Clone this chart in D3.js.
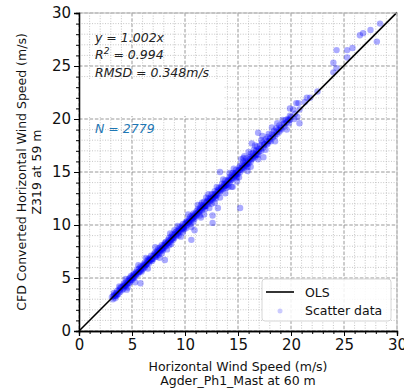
<!DOCTYPE html>
<html>
<head>
<meta charset="utf-8">
<script src="https://cdn.jsdelivr.net/npm/d3@7"></script>
<style>
  body { margin: 0; background: #fff; }
  text { font-family: "DejaVu Sans", sans-serif; }
</style>
</head>
<body>
<svg id="chart" width="404" height="391"></svg>
<script>
// axis ticks
const tickValues = [0, 5, 10, 15, 20, 25, 30];
const minorTicks = d3.range(0, 31, 1);

// OLS fit
const olsSlope = 1.002;
const olsRange = [0, 30];

// annotation strings
const statLines = ['y = 1.002x', 'R2 = 0.994', 'RMSD = 0.348m/s'];
const nLabel = 'N = 2779';

// scatter data [measured, cfd]
const scatterPoints = [
  [3.1,3.2],[3.2,3.0],[3.3,3.4],[3.4,3.3],[3.5,3.6],[3.5,3.3],[3.6,3.8],[3.7,3.5],[3.8,3.9],[3.9,3.7],[3.9,4.1],[3.3,3.6],[3.6,3.4],[3.8,4.2],[3.4,3.1],
  [4.0,4.1],[4.1,3.9],[4.2,4.4],[4.2,4.0],[4.3,4.5],[4.4,4.2],[4.5,4.7],[4.5,4.4],[4.6,4.5],[4.7,4.9],[4.7,4.5],[4.8,5.0],[4.8,4.6],[4.9,4.8],[4.9,5.2],[4.4,4.9],[4.6,4.1],[4.3,4.3],[4.5,3.9],
  [5.0,5.1],[5.0,4.8],[5.1,5.3],[5.2,5.0],[5.2,5.4],[5.3,5.2],[5.4,5.6],[5.4,5.3],[5.5,5.5],[5.5,5.8],[5.6,5.4],[5.7,5.9],[5.7,5.6],[5.8,5.7],[5.8,6.1],[5.9,5.8],[5.9,5.6],[5.3,4.6],[5.6,6.2],[5.1,5.0],[5.8,4.5],
  [6.0,6.1],[6.0,5.8],[6.1,6.3],[6.2,6.0],[6.2,6.4],[6.3,6.2],[6.4,6.6],[6.4,6.3],[6.5,6.5],[6.5,6.8],[6.6,6.4],[6.7,6.9],[6.7,6.6],[6.8,6.7],[6.8,7.1],[6.9,6.8],[6.9,6.6],[6.5,5.9],[6.3,6.9],[6.6,6.7],[6.1,6.0],
  [7.0,7.1],[7.0,6.8],[7.1,7.3],[7.2,7.0],[7.2,7.4],[7.3,7.2],[7.4,7.6],[7.4,7.3],[7.5,7.5],[7.5,7.8],[7.6,7.4],[7.7,7.9],[7.7,7.6],[7.8,7.7],[7.8,8.1],[7.9,7.8],[7.9,7.6],[7.6,6.9],[7.2,7.9],[7.5,7.2],[7.8,7.3],[7.3,7.0],
  [8.0,8.1],[8.0,7.8],[8.1,8.3],[8.2,8.0],[8.2,8.4],[8.3,8.2],[8.4,8.6],[8.4,8.3],[8.5,8.5],[8.5,8.8],[8.6,8.4],[8.7,8.9],[8.7,8.6],[8.8,8.7],[8.8,9.1],[8.9,8.8],[8.9,8.6],[8.3,7.7],[8.6,9.2],[8.1,8.0],[8.7,8.2],[8.5,8.1],[8.1,6.7],
  [9.0,9.1],[9.0,8.8],[9.1,9.3],[9.2,9.0],[9.2,9.4],[9.3,9.2],[9.4,9.6],[9.4,9.3],[9.5,9.5],[9.5,9.8],[9.6,9.4],[9.7,9.9],[9.7,9.6],[9.8,9.7],[9.8,10.1],[9.9,9.8],[9.9,9.6],[9.6,8.9],[9.3,9.9],[9.0,9.5],[9.8,9.3],[9.4,9.0],
  [10.0,10.1],[10.0,9.8],[10.1,10.3],[10.2,10.0],[10.2,10.4],[10.3,10.2],[10.4,10.6],[10.4,10.3],[10.5,10.5],[10.5,10.8],[10.6,10.4],[10.7,10.9],[10.7,10.6],[10.8,10.7],[10.8,11.1],[10.9,10.8],[10.9,10.6],[10.6,9.8],[10.3,11.0],[10.1,9.7],[10.8,10.3],[10.5,10.1],[10.6,8.6],[10.9,9.5],
  [11.0,11.1],[11.0,10.8],[11.1,11.3],[11.2,11.0],[11.2,11.5],[11.3,11.2],[11.4,11.6],[11.4,11.3],[11.5,11.5],[11.5,11.9],[11.6,11.4],[11.7,11.9],[11.7,11.6],[11.8,11.7],[11.8,12.2],[11.9,11.8],[11.9,11.5],[11.5,10.7],[11.2,11.9],[11.8,11.0],[11.4,10.9],[11.6,12.1],
  [12.0,12.1],[12.0,11.8],[12.1,12.3],[12.2,12.0],[12.2,12.5],[12.3,12.2],[12.4,12.6],[12.4,12.3],[12.5,12.5],[12.5,12.9],[12.6,12.4],[12.7,12.9],[12.7,12.6],[12.8,12.7],[12.8,13.2],[12.9,12.8],[12.9,12.5],[12.6,10.2],[12.3,11.6],[12.2,12.9],[12.8,12.1],[12.5,12.0],[12.0,12.6],[12.6,10.9],
  [13.0,13.1],[13.0,12.8],[13.1,13.3],[13.1,11.6],[13.2,13.0],[13.2,13.5],[13.3,13.2],[13.4,13.6],[13.4,13.3],[13.5,13.5],[13.5,13.9],[13.6,13.4],[13.7,13.9],[13.7,13.6],[13.8,13.7],[13.8,14.2],[13.9,13.8],[13.9,13.5],[13.3,12.6],[13.6,14.3],[13.0,13.6],[13.8,13.0],[13.3,15.0],
  [14.0,14.1],[14.0,13.8],[14.1,14.3],[14.2,14.0],[14.2,14.5],[14.3,14.2],[14.4,14.7],[14.4,14.3],[14.5,14.5],[14.5,14.9],[14.6,14.4],[14.7,14.9],[14.7,14.6],[14.8,14.7],[14.8,15.2],[14.9,14.8],[14.9,14.5],[14.4,13.6],[14.2,14.9],[14.6,15.3],[14.9,14.1],[14.1,13.6],[14.5,13.6],
  [15.0,15.1],[15.0,14.8],[15.1,15.4],[15.2,15.0],[15.2,15.6],[15.3,15.2],[15.4,15.7],[15.4,15.3],[15.5,15.5],[15.5,16.0],[15.6,15.4],[15.7,16.0],[15.7,15.6],[15.8,15.7],[15.8,16.3],[15.9,15.8],[15.9,15.5],[15.2,11.6],[15.3,16.2],[15.6,16.5],[15.9,15.1],[15.1,14.5],[15.5,16.3],
  [16.0,16.1],[16.0,15.8],[16.1,16.4],[16.2,16.0],[16.2,16.7],[16.3,16.2],[16.3,17.7],[16.4,16.8],[16.4,16.3],[16.5,16.5],[16.5,17.1],[16.6,16.4],[16.7,17.0],[16.7,16.6],[16.8,16.7],[16.8,17.4],[16.9,18.7],[16.9,16.6],[16.2,15.5],[16.6,17.5],[16.0,16.9],[16.9,16.2],
  [17.0,17.2],[17.0,16.9],[17.1,17.5],[17.2,17.0],[17.3,17.8],[17.4,17.3],[17.4,16.4],[17.5,17.6],[17.6,18.1],[17.7,17.6],[17.8,18.3],[17.8,17.7],[17.9,17.9],[17.2,18.0],[17.6,17.1],[17.9,18.6],[17.3,18.4],
  [18.0,18.2],[18.1,17.9],[18.2,18.6],[18.3,18.3],[18.4,18.9],[18.5,18.4],[18.6,19.1],[18.7,19.6],[18.7,18.6],[18.8,19.0],[18.9,18.8],[18.5,17.9],[18.2,19.2],[18.9,19.4],
  [19.0,19.2],[19.1,19.0],[19.3,19.6],[19.4,19.3],[19.5,19.9],[19.6,19.7],[19.7,20.0],[19.8,19.6],[19.9,20.3],[19.2,19.9],[19.6,19.0],[19.9,19.9],[19.9,21.0],
  [20.0,20.2],[20.2,20.9],[20.4,20.5],[20.6,20.2],[20.7,21.5],[20.3,20.0],[20.8,20.9],[20.8,19.6],[20.5,21.5],[21.5,22.0],[21.3,21.6],[21.8,22.0],[22.5,22.6],
  [24.0,24.4],[24.3,24.8],[24.0,25.3],[25.3,25.8],[24.3,26.5],[25.3,26.5],[25.8,26.7],[28.1,27.3],[26.5,27.9],[26.8,28.1],[27.5,28.4],[28.4,29.0]
];

// dense core points close to the fit line
const corePoints = [
  [3.25,3.3],[3.55,3.5],[3.85,3.8],[4.15,4.2],[4.35,4.3],[4.65,4.7],[4.85,4.8],[5.15,5.1],[5.35,5.4],[5.65,5.6],[5.85,5.9],
  [6.15,6.2],[6.35,6.3],[6.65,6.7],[6.85,6.8],[7.15,7.1],[7.35,7.4],[7.65,7.7],[7.85,7.8],[8.15,8.2],[8.35,8.3],[8.65,8.6],[8.85,8.9],
  [9.15,9.1],[9.35,9.4],[9.65,9.7],[9.85,9.8],[10.15,10.2],[10.35,10.3],[10.65,10.7],[10.85,10.9],[11.15,11.1],[11.35,11.4],[11.65,11.7],[11.85,11.8],
  [12.15,12.2],[12.35,12.4],[12.65,12.6],[12.85,12.9],[13.15,13.2],[13.35,13.4],[13.65,13.7],[13.85,13.9],[14.15,14.2],[14.35,14.4],[14.65,14.7],[14.85,14.9],
  [15.15,15.2],[15.35,15.4],[15.65,15.7],[15.85,15.9],[16.15,16.2],[16.35,16.5],[16.65,16.7],[16.85,17.0],[17.15,17.2],[17.45,17.6],[17.75,17.9],
  [18.05,18.1],[18.35,18.5],[18.65,18.8],[19.05,19.1],[19.35,19.5],[19.75,19.9]
];

const svg = d3.select('#chart');
const margin = { top: 13, right: 7, bottom: 60, left: 79 };
const width = 404 - margin.left - margin.right;
const height = 391 - margin.top - margin.bottom;

const x = d3.scaleLinear().domain([0, 30]).range([0, width]);
const y = d3.scaleLinear().domain([0, 30]).range([height, 0]);

const g = svg.append('g').attr('transform', 'translate(' + margin.left + ',' + margin.top + ')');

// minor grid
g.append('g').selectAll('line.vminor')
  .data(minorTicks.filter(d => d % 5 !== 0)).enter().append('line')
  .attr('x1', d => x(d)).attr('x2', d => x(d)).attr('y1', 0).attr('y2', height)
  .attr('stroke', '#b8b8b8').attr('stroke-width', 0.8).attr('stroke-dasharray', '1,1.6');
g.append('g').selectAll('line.hminor')
  .data(minorTicks.filter(d => d % 5 !== 0)).enter().append('line')
  .attr('y1', d => y(d)).attr('y2', d => y(d)).attr('x1', 0).attr('x2', width)
  .attr('stroke', '#b8b8b8').attr('stroke-width', 0.8).attr('stroke-dasharray', '1,1.6');

// major grid
g.append('g').selectAll('line.vmajor')
  .data(tickValues).enter().append('line')
  .attr('x1', d => x(d)).attr('x2', d => x(d)).attr('y1', 0).attr('y2', height)
  .attr('stroke', '#8c8c8c').attr('stroke-width', 0.9).attr('stroke-dasharray', '3.5,1.8');
g.append('g').selectAll('line.hmajor')
  .data(tickValues).enter().append('line')
  .attr('y1', d => y(d)).attr('y2', d => y(d)).attr('x1', 0).attr('x2', width)
  .attr('stroke', '#8c8c8c').attr('stroke-width', 0.9).attr('stroke-dasharray', '3.5,1.8');

// white box under the stats text
g.append('rect')
  .attr('x', 0).attr('y', 66).attr('width', 145).attr('height', 37)
  .attr('fill', '#fff');

// scatter
g.append('g').selectAll('circle')
  .data(scatterPoints.concat(corePoints)).enter().append('circle')
  .attr('cx', d => x(d[0])).attr('cy', d => y(d[1])).attr('r', 3.2)
  .attr('fill', '#0000ff').attr('fill-opacity', 0.33);

// OLS line
g.append('line')
  .attr('x1', x(olsRange[0])).attr('y1', y(olsSlope * olsRange[0]))
  .attr('x2', x(olsRange[1])).attr('y2', y(olsSlope * olsRange[1]))
  .attr('stroke', '#000').attr('stroke-width', 1.6);

// top/right frame
g.append('line').attr('x1', 0).attr('x2', width).attr('y1', 0).attr('y2', 0)
  .attr('stroke', '#bdbdbd').attr('stroke-width', 1);
g.append('line').attr('x1', width).attr('x2', width).attr('y1', 0).attr('y2', height)
  .attr('stroke', '#bdbdbd').attr('stroke-width', 1);

// axes
const xAxis = g.append('g').attr('transform', 'translate(0,' + height + ')')
  .call(d3.axisBottom(x).tickValues(tickValues).tickSize(5).tickPadding(3));
const xMinor = g.append('g').attr('transform', 'translate(0,' + height + ')')
  .call(d3.axisBottom(x).tickValues(minorTicks).tickSize(3).tickFormat(''));
const yAxis = g.append('g')
  .call(d3.axisLeft(y).tickValues(tickValues).tickSize(5).tickPadding(3));
const yMinor = g.append('g')
  .call(d3.axisLeft(y).tickValues(minorTicks).tickSize(3).tickFormat(''));

[xAxis, yAxis, xMinor, yMinor].forEach(a => {
  a.selectAll('path').attr('stroke', '#000').attr('stroke-width', 1.3);
  a.selectAll('line').attr('stroke', '#000').attr('stroke-width', 1);
  a.selectAll('text').attr('fill', '#111').style('font-family', '"DejaVu Sans", sans-serif').style('font-size', '15px');
});

// stats text
const statsG = g.append('g').style('font-style', 'italic').style('font-size', '12.5px').attr('fill', '#222');
statsG.append('text').attr('x', 16).attr('y', 29).text(statLines[0]);
const r2 = statsG.append('text').attr('x', 16).attr('y', 46);
r2.append('tspan').text('R');
r2.append('tspan').attr('dy', -5).style('font-size', '9px').text('2');
r2.append('tspan').attr('dy', 5).text(' = 0.994');
statsG.append('text').attr('x', 16).attr('y', 64).text(statLines[2]);
g.append('text').attr('x', 16).attr('y', 120)
  .style('font-style', 'italic').style('font-size', '12.5px').attr('fill', '#1f77b4').text(nLabel);

// legend
const lg = g.append('g').attr('transform', 'translate(' + (x(0) + 183) + ',' + 266 + ')');
lg.append('rect').attr('width', 129).attr('height', 42).attr('rx', 3)
  .attr('fill', '#fff').attr('fill-opacity', 0.85).attr('stroke', '#d6d6d6');
lg.append('line').attr('x1', 4).attr('x2', 32).attr('y1', 13).attr('y2', 13)
  .attr('stroke', '#000').attr('stroke-width', 1.6);
lg.append('text').attr('x', 43).attr('y', 17.5).style('font-size', '12.5px').attr('fill', '#111').text('OLS');
lg.append('circle').attr('cx', 18).attr('cy', 32).attr('r', 2.5)
  .attr('fill', '#0000ff').attr('fill-opacity', 0.2);
lg.append('text').attr('x', 43).attr('y', 36).style('font-size', '12.5px').attr('fill', '#111').text('Scatter data');

// axis labels
const xl = svg.append('text').attr('text-anchor', 'middle').style('font-size', '12.5px').attr('fill', '#111');
xl.append('tspan').attr('x', margin.left + width / 2).attr('y', 371).text('Horizontal Wind Speed (m/s)');
xl.append('tspan').attr('x', margin.left + width / 2).attr('y', 385).text('Agder_Ph1_Mast at 60 m');

const yl = svg.append('text').attr('text-anchor', 'middle').style('font-size', '12.5px').attr('fill', '#111')
  .attr('transform', 'translate(0,' + (margin.top + height / 2) + ') rotate(-90)');
yl.append('tspan').attr('x', 0).attr('y', 26).text('CFD Converted Horizontal Wind Speed (m/s)');
yl.append('tspan').attr('x', 0).attr('y', 41).text('Z319 at 59 m');
</script>
</body>
</html>
